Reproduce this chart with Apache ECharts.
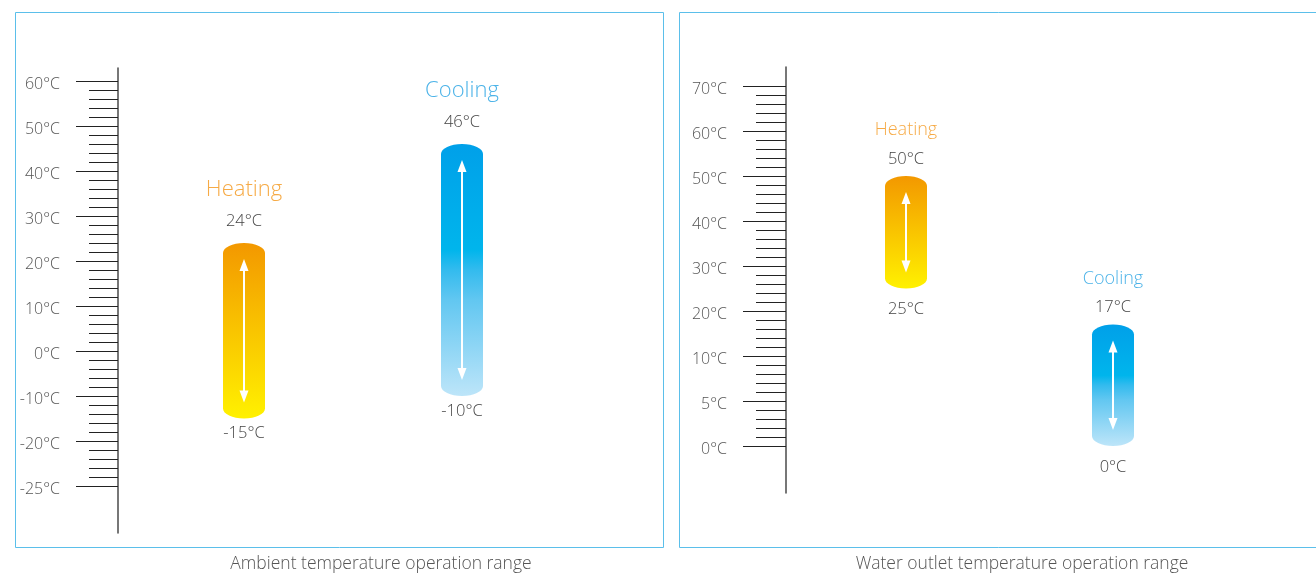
<!DOCTYPE html>
<html>
<head>
<meta charset="utf-8">
<script src="https://cdn.jsdelivr.net/npm/echarts@6/dist/echarts.min.js"></script>
<style>html,body{margin:0;padding:0;background:#fff}#chart{width:1316px;height:573px}</style>
</head>
<body>
<div id="chart"></div>
<script>
// scale labels, top to bottom (the printed scale is evenly spaced per label, not per degree)
const ambientTicks = [60, 50, 40, 30, 20, 10, 0, -10, -20, -25];
const ambientModes = ["Heating", "Cooling"];
const ambientLow = [-15, -10];
const ambientHigh = [24, 46];

const waterTicks = [70, 60, 50, 40, 30, 20, 10, 5, 0];
const waterModes = ["Heating", "Cooling"];
const waterLow = [25, 0];
const waterHigh = [50, 17];

const FONT = "'Open Sans', 'Noto Sans', sans-serif";
const nameColors = { Heating: "#f6aa45", Cooling: "#4cb3e8" };
const gradients = {
  Heating: [[0, "#f39800"], [1, "#fff100"]],
  Cooling: [[0, "#00a0e9"], [0.42, "#00b5ec"], [0.5, "#33bbee"], [0.62, "#62c7f1"], [1, "#bde5f9"]],
};

// temperature -> position on the printed scale (index of label, fractional between labels)
function scalePos(ticks, t) {
  for (let i = 0; i < ticks.length - 1; i++) {
    const a = ticks[i], b = ticks[i + 1];
    if (t <= a && t >= b) return i + (a - t) / (a - b);
  }
  return t > ticks[0] ? 0 : ticks.length - 1;
}

const panels = [
  { ticks: ambientTicks, modes: ambientModes, low: ambientLow, high: ambientHigh,
    axisX: 118, top: 68, bottom: 533, firstTick: 81, step: 45, barLeft: 135, barRight: 571,
    nameFont: 22, nameGap: 53, valueGap: 22, bottomGap: 15, labelMargin: 58, major: 42, minor: 29 },
  { ticks: waterTicks, modes: waterModes, low: waterLow, high: waterHigh,
    axisX: 786, top: 67, bottom: 493, firstTick: 86, step: 45, barLeft: 802.5, barRight: 1216.5,
    nameFont: 18, nameGap: 46, valueGap: 17, bottomGap: 21, labelMargin: 59, major: 43, minor: 30 },
];

const grid = [], xAxis = [], yAxis = [], series = [];

panels.forEach(p => {
  const min = (p.top - p.firstTick) / p.step;
  const max = (p.bottom - p.firstTick) / p.step;
  const height = p.bottom - p.top;
  const majors = p.ticks.map((_, i) => i);
  const minors = [];
  for (let i = 0; i < p.ticks.length - 1; i++) for (let k = 1; k < 5; k++) minors.push(i + k / 5);

  const scaleGrid = grid.length;
  grid.push({ left: p.axisX, top: p.top, width: 20, height });
  const barGrid = grid.length;
  grid.push({ left: p.barLeft, top: p.top, width: p.barRight - p.barLeft, height });

  xAxis.push({ gridIndex: scaleGrid, type: "value", show: false, min: 0, max: 1 });
  xAxis.push({ gridIndex: barGrid, type: "category", show: false, data: p.modes });

  const base = { type: "value", inverse: true, min, max, splitLine: { show: false } };
  yAxis.push({
    ...base, gridIndex: scaleGrid, position: "left",
    axisLine: { show: true, lineStyle: { color: "#4a4a4a", width: 1.5 } },
    axisTick: { show: true, customValues: majors, length: p.major, lineStyle: { color: "#222", width: 1 } },
    axisLabel: {
      show: true, customValues: majors, margin: p.labelMargin, color: "#555",
      fontFamily: FONT, fontSize: 16, fontWeight: 300, verticalAlign: "top", lineHeight: 6,
      formatter: v => p.ticks[Math.round(v)] + "°C",
    },
  });
  yAxis.push({
    ...base, gridIndex: scaleGrid, position: "left", offset: 0,
    axisLine: { show: false },
    axisTick: { show: true, customValues: minors, length: p.minor, lineStyle: { color: "#222", width: 1 } },
    axisLabel: { show: false },
  });
  const barY = yAxis.length;
  yAxis.push({ ...base, gridIndex: barGrid, show: false });

  series.push({
    type: "custom",
    xAxisIndex: barGrid,
    yAxisIndex: barY,
    data: p.modes.map((m, i) => [i, scalePos(p.ticks, p.high[i]), scalePos(p.ticks, p.low[i])]),
    renderItem: (params, api) => {
      const i = params.dataIndex;
      const mode = p.modes[i];
      const cx = api.coord([i, 0])[0];
      const yTop = api.coord([i, api.value(1)])[1];
      const yBot = api.coord([i, api.value(2)])[1];
      const w = 42, rx = 21, ry = 10, k = 0.5523, h = yBot - yTop;
      const d = `M0 ${ry} C0 ${ry - k * ry} ${rx - k * rx} 0 ${rx} 0 C${rx + k * rx} 0 ${w} ${ry - k * ry} ${w} ${ry}` +
        ` L${w} ${h - ry} C${w} ${h - ry + k * ry} ${rx + k * rx} ${h} ${rx} ${h} C${rx - k * rx} ${h} 0 ${h - ry + k * ry} 0 ${h - ry} Z`;
      const a1 = yTop + 16, a2 = yBot - 16;
      const txt = (text, y, fill, size) => ({
        type: "text",
        style: { text, x: cx, y, align: "center", verticalAlign: "middle", fill, font: `300 ${size}px ${FONT}` },
      });
      return {
        type: "group",
        children: [
          {
            type: "path",
            shape: { pathData: d, x: cx - rx, y: yTop, width: w, height: h },
            style: {
              fill: new echarts.graphic.LinearGradient(0, 0, 0, 1,
                gradients[mode].map(([offset, color]) => ({ offset, color }))),
            },
          },
          { type: "line", shape: { x1: cx, y1: a1 + 8, x2: cx, y2: a2 - 8 }, style: { stroke: "#fff", lineWidth: 2 } },
          { type: "polygon", shape: { points: [[cx, a1], [cx - 4.5, a1 + 12], [cx + 4.5, a1 + 12]] }, style: { fill: "#fff" } },
          { type: "polygon", shape: { points: [[cx, a2], [cx - 4.5, a2 - 12], [cx + 4.5, a2 - 12]] }, style: { fill: "#fff" } },
          txt(mode, yTop - p.nameGap, nameColors[mode], p.nameFont),
          txt(p.high[i] + "°C", yTop - p.valueGap, "#444", 16.5),
          txt(p.low[i] + "°C", yBot + p.bottomGap, "#444", 16.5),
        ],
      };
    },
  });
});

const chart = echarts.init(document.getElementById("chart"));
chart.setOption({
  animation: false,
  grid, xAxis, yAxis, series,
  graphic: [
    { type: "rect", shape: { x: 15.5, y: 12.5, width: 648, height: 535 }, style: { fill: "none", stroke: "#5bbfea", lineWidth: 1 } },
    { type: "rect", shape: { x: 679.5, y: 12.5, width: 660, height: 535 }, style: { fill: "none", stroke: "#5bbfea", lineWidth: 1 } },
    { type: "text", style: { text: "Ambient temperature operation range", x: 381, y: 564, align: "center", verticalAlign: "middle", fill: "#555", font: `300 17.5px ${FONT}` } },
    { type: "text", style: { text: "Water outlet temperature operation range", x: 1022, y: 564, align: "center", verticalAlign: "middle", fill: "#555", font: `300 17.5px ${FONT}` } },
  ],
});
</script>
</body>
</html>
